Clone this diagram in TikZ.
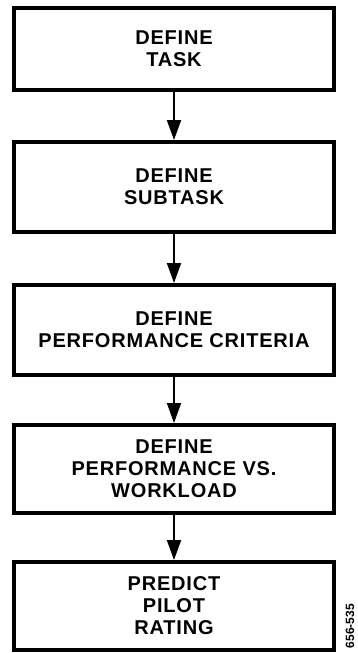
\documentclass[tikz,border=0pt]{standalone}
\usepackage{fontspec}
\setmainfont{Liberation Sans}
\newfontfamily\boxfont[LetterSpace=4]{Liberation Sans}
\usetikzlibrary{arrows.meta, positioning}

\tikzset{
    stepbox/.style={draw, line width=4pt, minimum width=320pt, align=center,
        font=\boxfont\bfseries\fontsize{20}{22}\selectfont},
    flow/.style={line width=2pt, -{Triangle[length=20pt, width=14pt]}}
}

\begin{document}
\begin{tikzpicture}[x=1pt, y=-1pt]
    \useasboundingbox (0,0) rectangle (357,653);
    % the five steps
    \node[stepbox, minimum height=82pt] (task) at (174,49) {DEFINE\\TASK};
    \node[stepbox, minimum height=90pt] (subtask) at (174,187) {DEFINE\\SUBTASK};
    \node[stepbox, minimum height=90pt] (criteria) at (174,330) {DEFINE\\PERFORMANCE CRITERIA};
    \node[stepbox, minimum height=88pt] (workload) at (174,469) {DEFINE\\PERFORMANCE VS.\\WORKLOAD};
    \node[stepbox, minimum height=88pt] (rating) at (174,606) {PREDICT\\PILOT\\RATING};
    % connectors
    \draw[flow] (task) -- (subtask);
    \draw[flow] (subtask) -- (criteria);
    \draw[flow] (criteria) -- (workload);
    \draw[flow] (workload) -- (rating);
    % figure number
    \node[rotate=90, font=\bfseries\fontsize{12}{14}\selectfont] (fignum) at (350,626) {656-535};
\end{tikzpicture}
\end{document}
